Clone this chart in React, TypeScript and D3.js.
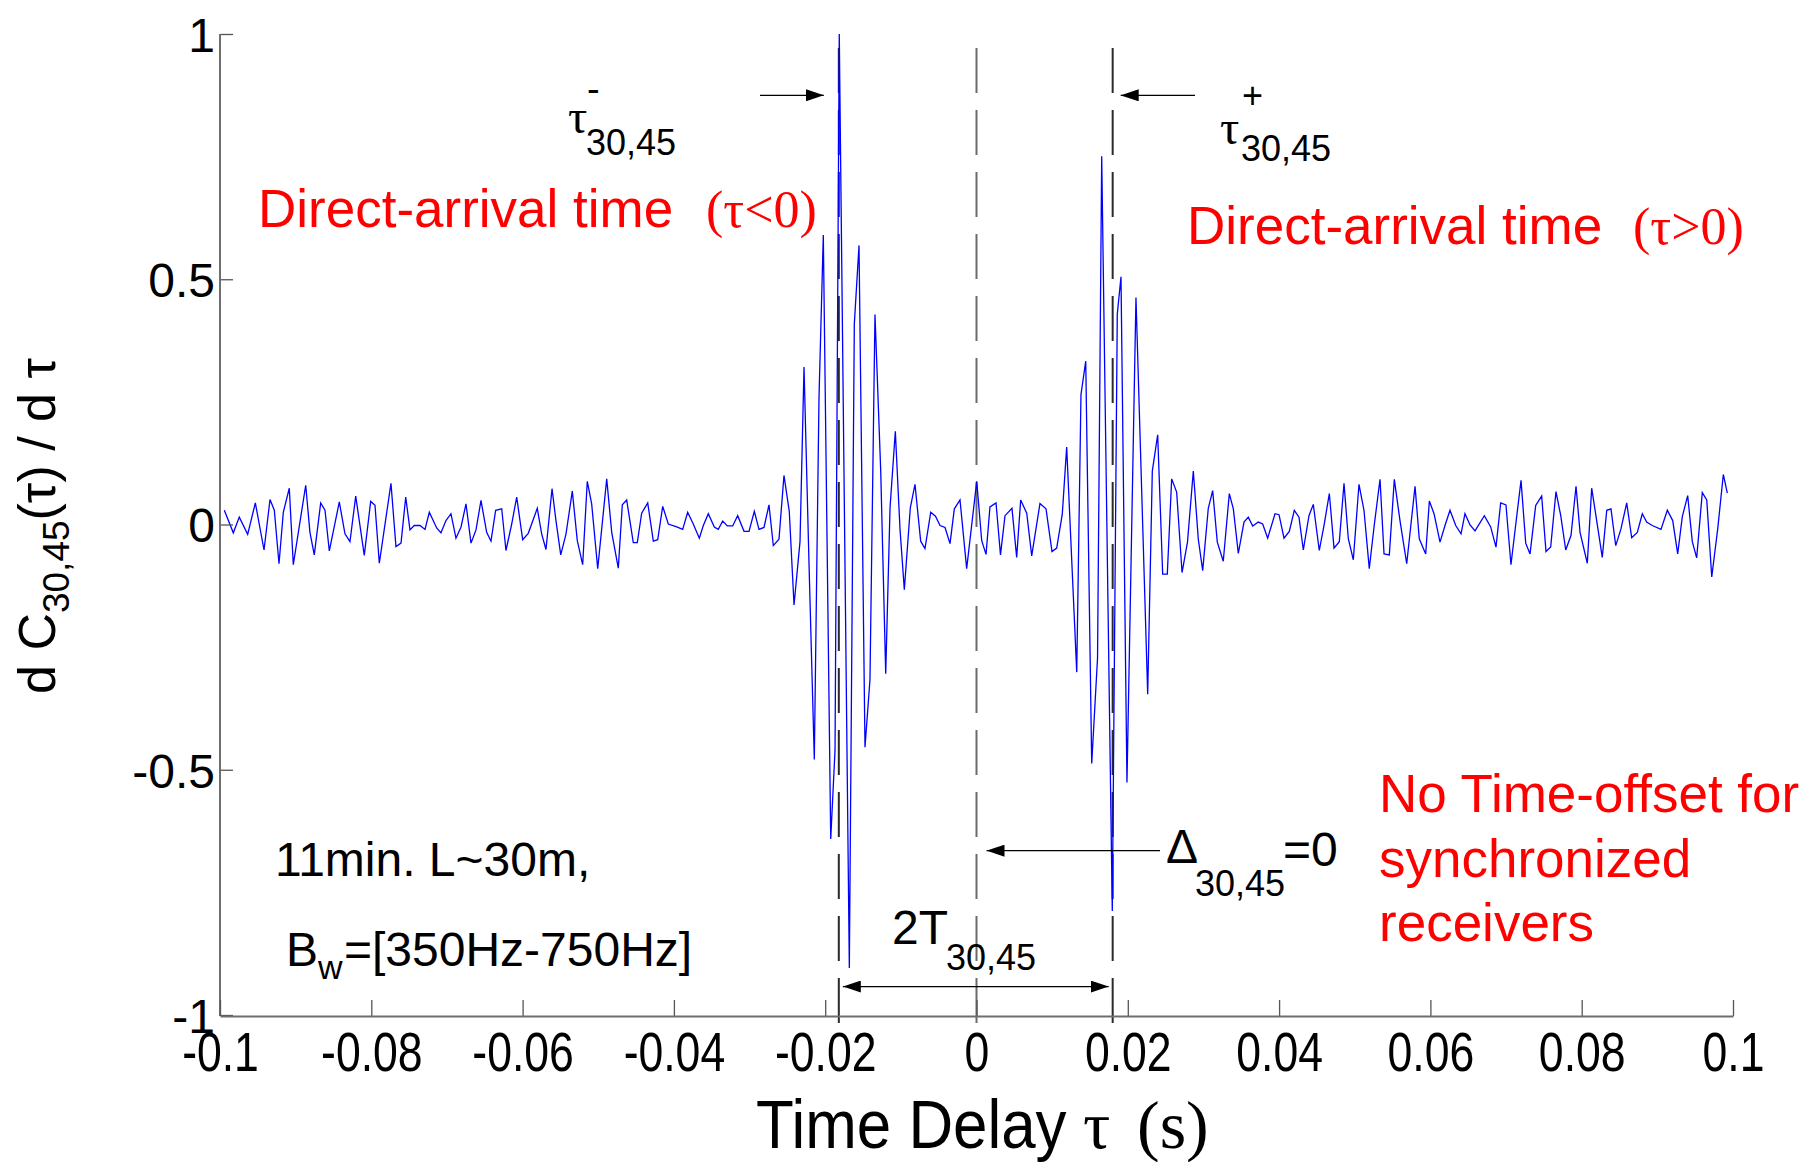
import * as d3 from "d3";
import React, { useEffect, useRef } from "react";

// trace of d C(tau)/d tau
const tauNoiseLeft = [
  -0.09943, -0.09824, -0.09745, -0.09634, -0.09533, -0.09418, -0.09339, -0.09282, -0.0922, -0.09163,
  -0.09084, -0.09031, -0.08867, -0.08811, -0.08754, -0.08669, -0.08612, -0.08555, -0.08423, -0.08348,
  -0.08282, -0.08206, -0.08093, -0.08008, -0.07951, -0.07894, -0.0774, -0.07674, -0.07607, -0.07545,
  -0.07489, -0.07432, -0.07356, -0.0729, -0.07233, -0.07136, -0.07079, -0.07013, -0.06947, -0.06881,
  -0.06814, -0.06748, -0.06682, -0.06616, -0.0655, -0.06475, -0.06418, -0.06356, -0.06276, -0.0622,
  -0.06144, -0.06078, -0.05999, -0.05925,
];
const valNoiseLeft = [
  0.029, -0.017, 0.015, -0.02, 0.044, -0.052, 0.051, 0.029, -0.08, 0.025,
  0.074, -0.082, 0.08, -0.016, -0.062, 0.044, 0.029, -0.054, 0.046, -0.019,
  -0.035, 0.058, -0.063, 0.047, 0.039, -0.079, 0.084, -0.045, -0.038, 0.056,
  -0.011, -0.002, -0.002, -0.01, 0.025, -0.007, -0.017, 0.008, 0.022, -0.028,
  -0.005, 0.042, -0.038, -0.011, 0.049, -0.016, -0.034, 0.029, 0.032, -0.053,
  0.001, 0.056, -0.031, -0.018,
];

const tauPreBurst = [
  -0.05806, -0.05748, -0.05691, -0.05611, -0.05559, -0.05496, -0.05426, -0.05343, -0.05277, -0.05206,
  -0.05145, -0.05087, -0.05007, -0.04888, -0.04822, -0.04735, -0.04682, -0.04624, -0.04537, -0.04484,
  -0.04426, -0.04346, -0.04272, -0.04214, -0.04148, -0.04074, -0.03963, -0.03884, -0.03818, -0.03744,
  -0.03664, -0.03611, -0.03545, -0.03466, -0.03413, -0.03355, -0.03294, -0.03223, -0.03157, -0.03073,
  -0.03007, -0.02937, -0.02875, -0.02809, -0.02743, -0.02686, -0.02611,
];
const valPreBurst = [
  0.033, -0.019, -0.051, 0.073, 0.008, -0.062, -0.019, 0.068, -0.033, -0.082,
  0.088, 0.042, -0.09, 0.093, -0.016, -0.089, 0.04, 0.05, -0.037, -0.037,
  0.023, 0.044, -0.034, -0.031, 0.037, 0.001, -0.005, -0.01, 0.025, 0.001,
  -0.028, -0.002, 0.022, -0.005, -0.01, 0.007, -0.003, -0.003, 0.018, -0.014,
  -0.014, 0.027, -0.01, -0.006, 0.04, -0.043, -0.03,
];

const tauBurstNeg = [
  -0.02545, -0.02475, -0.02412, -0.02333, -0.0228, -0.02214, -0.02144, -0.02082, -0.02025, -0.01927,
  -0.0187, -0.01814, -0.01681, -0.01615, -0.01553, -0.01474, -0.01408, -0.01342, -0.01266, -0.012,
  -0.01143, -0.01073, -0.01011, -0.00954,
];
const valBurstNeg = [
  0.1, 0.027, -0.164, -0.035, 0.321, -0.08, -0.479, 0.259, 0.59, -0.641,
  -0.46, 1.0, -0.904, 0.409, 0.569, -0.454, -0.316, 0.428, 0.109, -0.304,
  0.034, 0.19, -0.01, -0.133,
];

const tauCenter = [
  -0.00875, -0.00813, -0.00738, -0.00681, -0.00605, -0.00542, -0.00482, -0.00416, -0.0035, -0.00293,
  -0.00218, -0.0013, 0.00003, 0.00069, 0.00126, 0.00178, 0.00258, 0.00317, 0.00377, 0.00469,
  0.00531, 0.00584, 0.00664, 0.0073, 0.00839, 0.00919, 0.00998, 0.0106, 0.01134,
];
const valCenter = [
  0.034, 0.082, -0.034, -0.049, 0.025, 0.017, -0.002, -0.006, -0.039, 0.032,
  0.05, -0.09, 0.088, -0.033, -0.061, 0.036, 0.044, -0.062, 0.018, 0.033,
  -0.067, 0.05, 0.023, -0.064, 0.043, 0.032, -0.055, -0.048, 0.021,
];

const tauBurstPos = [
  0.01192, 0.01325, 0.01381, 0.01444, 0.01523, 0.016, 0.01655, 0.01795, 0.01861, 0.0191,
  0.01989, 0.02108, 0.02263, 0.02324, 0.02395, 0.02461, 0.02522, 0.0258, 0.02646, 0.02717,
  0.02789, 0.02866, 0.02932, 0.0299,
];
const valBurstPos = [
  0.158, -0.301, 0.265, 0.333, -0.487, -0.272, 0.751, -0.788, 0.429, 0.505,
  -0.526, 0.463, -0.346, 0.109, 0.183, -0.101, -0.101, 0.093, 0.066, -0.098,
  -0.036, 0.109, -0.03, -0.094,
];

const tauPostBurst = [
  0.03064, 0.03122, 0.03183, 0.03262, 0.03342, 0.03395, 0.03461, 0.03536, 0.03593, 0.03651,
  0.03725, 0.03783, 0.03849, 0.03946, 0.03999, 0.04065, 0.04135, 0.04201, 0.04263, 0.0432,
  0.04395, 0.04452, 0.04531, 0.04594, 0.04664, 0.04726, 0.04796, 0.04858, 0.04915, 0.04981,
  0.05056, 0.05122, 0.05192, 0.05258, 0.05334, 0.05387, 0.05457, 0.05523, 0.05598, 0.05687,
  0.05797, 0.05853, 0.05938, 0.05986, 0.06048, 0.06127, 0.06193, 0.06259, 0.06335, 0.06405,
  0.06457, 0.06524,
];
const valPostBurst = [
  0.033, 0.069, -0.036, -0.075, 0.063, 0.032, -0.059, 0.005, 0.015, -0.003,
  0.005, 0.001, -0.028, 0.022, 0.02, -0.028, -0.014, 0.029, 0.015, -0.052,
  0.018, 0.041, -0.053, -0.002, 0.063, -0.048, -0.035, 0.084, -0.029, -0.072,
  0.082, 0.029, -0.09, -0.001, 0.092, -0.06, -0.062, 0.092, 0.008, -0.08,
  0.078, -0.029, -0.06, 0.048, 0.022, -0.036, -0.002, 0.029, -0.002, -0.019,
  0.022, -0.001,
];

const tauNoiseRight = [
  0.0659, 0.06713, 0.06797, 0.06867, 0.06929, 0.06999, 0.07065, 0.07132, 0.07198, 0.0726,
  0.07317, 0.07392, 0.07471, 0.07528, 0.0759, 0.0766, 0.07723, 0.07789, 0.07859, 0.07925,
  0.07978, 0.08074, 0.08132, 0.08198, 0.08272, 0.08331, 0.08387, 0.0845, 0.08519, 0.08595,
  0.08661, 0.08735, 0.08801, 0.08859, 0.08933, 0.09048, 0.09132, 0.09203, 0.09269, 0.0933,
  0.09401, 0.09462, 0.0952, 0.09594, 0.09653, 0.09719, 0.09798, 0.09872, 0.09925,
];
const valNoiseRight = [
  -0.013, 0.018, -0.005, -0.046, 0.044, 0.04, -0.082, 0.005, 0.09, -0.038,
  -0.06, 0.039, 0.058, -0.055, -0.046, 0.067, 0.018, -0.052, -0.022, 0.078,
  -0.016, -0.079, 0.074, 0.008, -0.067, 0.029, 0.032, -0.043, -0.009, 0.044,
  -0.027, -0.016, 0.022, 0.005, -0.002, -0.01, 0.029, 0.008, -0.06, 0.016,
  0.059, -0.035, -0.068, 0.065, 0.05, -0.107, -0.009, 0.102, 0.064,
];

const xTickValues = [-0.1, -0.08, -0.06, -0.04, -0.02, 0, 0.02, 0.04, 0.06, 0.08, 0.1];
const xTickLabels = ["-0.1", "-0.08", "-0.06", "-0.04", "-0.02", "0", "0.02", "0.04", "0.06", "0.08", "0.1"];
const yTickValues = [-1, -0.5, 0, 0.5, 1];
const yTickLabels = ["-1", "-0.5", "0", "0.5", "1"];

// tau-, 0 (no offset), tau+
const markerTaus = [-0.0182, 0, 0.018];
const markerColors = ["#2a2a2a", "#6a6a6a", "#2a2a2a"];

const SANS = "'Liberation Sans', Arial, Helvetica, sans-serif";
const SERIF = "'Liberation Serif', 'Times New Roman', serif";

const App = () => {
  const ref = useRef(null);

  useEffect(() => {
    const width = 1810;
    const height = 1162;
    const left = 220;
    const right = 1733;
    const top = 34;
    const bottom = 1016;

    const tau = [
      ...tauNoiseLeft, ...tauPreBurst, ...tauBurstNeg, ...tauCenter,
      ...tauBurstPos, ...tauPostBurst, ...tauNoiseRight,
    ];
    const val = [
      ...valNoiseLeft, ...valPreBurst, ...valBurstNeg, ...valCenter,
      ...valBurstPos, ...valPostBurst, ...valNoiseRight,
    ];

    const svg = d3.select(ref.current).attr("width", width).attr("height", height);
    svg.selectAll("*").remove();
    svg.append("rect").attr("width", width).attr("height", height).attr("fill", "#fff");

    const x = d3.scaleLinear().domain([-0.1, 0.1]).range([left, right]);
    const y = d3.scaleLinear().domain([-1, 1]).range([bottom - 1, top]);

    const defs = svg.append("defs");
    defs
      .append("marker")
      .attr("id", "head")
      .attr("viewBox", "0 0 18 12")
      .attr("markerUnits", "userSpaceOnUse")
      .attr("markerWidth", 18)
      .attr("markerHeight", 12)
      .attr("refX", 18)
      .attr("refY", 6)
      .attr("orient", "auto-start-reverse")
      .append("path")
      .attr("d", "M0,0 L18,6 L0,12 Z")
      .attr("fill", "#000");

    // vertical dashed markers
    svg
      .selectAll(".marker")
      .data(markerTaus)
      .enter()
      .append("line")
      .attr("x1", (d) => x(d))
      .attr("x2", (d) => x(d))
      .attr("y1", top)
      .attr("y2", bottom + 66)
      .attr("stroke", (d, i) => markerColors[i])
      .attr("stroke-width", 2)
      .attr("stroke-dasharray", "45 17")
      .attr("stroke-dashoffset", 48);

    // signal
    const line = d3
      .line()
      .x((i) => x(tau[i]))
      .y((i) => y(val[i]));
    svg
      .append("path")
      .attr("d", line(d3.range(tau.length)))
      .attr("fill", "none")
      .attr("stroke", "#0000ff")
      .attr("stroke-width", 1.3)
      .attr("stroke-linejoin", "miter");

    // y axis
    const yAxis = svg
      .append("g")
      .attr("transform", `translate(${left},0)`)
      .call(
        d3.axisLeft(y).tickValues(yTickValues).tickSizeInner(-13).tickSizeOuter(0).tickPadding(5)
          .tickFormat((d, i) => yTickLabels[i])
      );
    yAxis.select(".domain").attr("stroke", "#6e6e6e").attr("stroke-width", 2).attr("d", `M0,${top}V${bottom}`);
    yAxis.selectAll(".tick line").attr("stroke", "#555").attr("stroke-width", 1.3);
    yAxis.selectAll("text").attr("font-family", SANS).attr("font-size", 48).attr("fill", "#000").attr("dy", "0.36em");

    // x axis
    const xAxis = svg
      .append("g")
      .attr("transform", `translate(0,${bottom})`)
      .call(
        d3.axisBottom(x).tickValues(xTickValues).tickSizeInner(-16).tickSizeOuter(0)
          .tickFormat((d, i) => xTickLabels[i])
      );
    xAxis.select(".domain").attr("stroke", "#6e6e6e").attr("stroke-width", 2);
    xAxis.selectAll(".tick line").attr("stroke", "#555").attr("stroke-width", 1.3);
    xAxis
      .selectAll("text")
      .attr("font-family", SANS)
      .attr("font-size", 55)
      .attr("fill", "#000")
      .attr("y", 55)
      .attr("dy", 0)
      .attr("transform", "scale(0.81,1)");
    // white box behind each tick label (hides the dashed lines)
    xAxis.selectAll(".tick").each(function () {
      const g = d3.select(this);
      const t = g.select("text");
      const b = t.node().getBBox();
      g.insert("rect", "text")
        .attr("x", b.x * 0.81 - 2)
        .attr("y", 20)
        .attr("width", b.width * 0.81 + 4)
        .attr("height", 59)
        .attr("fill", "#fff");
    });
    svg.selectAll(".domain").raise();

    const txt = (px, py, s, size, fill = "#000", family = SANS) =>
      svg
        .append("text")
        .attr("x", px)
        .attr("y", py)
        .attr("font-size", size)
        .attr("font-family", family)
        .attr("fill", fill)
        .text(s);

    // tau- label and arrow
    txt(568, 133, "τ", 48, "#000", SERIF);
    txt(587, 102, "-", 38);
    txt(586, 155, "30,45", 36);
    svg.append("line")
      .attr("x1", 760).attr("x2", x(markerTaus[0]) - 15)
      .attr("y1", y(0.875)).attr("y2", y(0.875))
      .attr("stroke", "#000").attr("stroke-width", 1.3).attr("marker-end", "url(#head)");

    // tau+ label and arrow
    txt(1220, 144, "τ", 48, "#000", SERIF);
    txt(1242, 108, "+", 36);
    txt(1241, 161, "30,45", 36);
    svg.append("line")
      .attr("x1", 1195).attr("x2", x(markerTaus[2]) + 8)
      .attr("y1", y(0.875)).attr("y2", y(0.875))
      .attr("stroke", "#000").attr("stroke-width", 1.3).attr("marker-end", "url(#head)");

    // red annotations
    txt(258, 227, "Direct-arrival time", 53, "#ff0000");
    txt(706, 227, "(τ<0)", 52, "#ff0000", SERIF);
    txt(1187, 244, "Direct-arrival time", 53, "#ff0000");
    txt(1633, 244, "(τ>0)", 52, "#ff0000", SERIF);
    txt(1379, 812, "No Time-offset for", 53, "#ff0000");
    txt(1379, 877, "synchronized", 53, "#ff0000");
    txt(1379, 941, "receivers", 53, "#ff0000");

    // experiment notes
    txt(275, 876, "11min. L~30m,", 48);
    txt(286, 966, "B", 48);
    txt(318, 979, "w", 34);
    txt(344, 966, "=[350Hz-750Hz]", 48);

    // Delta = 0 with arrow to the centre line
    txt(1166, 863, "Δ", 48);
    txt(1195, 896, "30,45", 36);
    txt(1283, 866, "=0", 48);
    svg.append("line")
      .attr("x1", 1160).attr("x2", x(markerTaus[1]) + 10)
      .attr("y1", y(-0.665)).attr("y2", y(-0.665))
      .attr("stroke", "#000").attr("stroke-width", 1.3).attr("marker-end", "url(#head)");

    // 2T span between the two arrivals
    txt(892, 944, "2T", 48);
    txt(946, 970, "30,45", 36);
    svg.append("line")
      .attr("x1", x(markerTaus[0]) + 4).attr("x2", x(markerTaus[2]) - 4)
      .attr("y1", y(-0.942)).attr("y2", y(-0.942))
      .attr("stroke", "#000").attr("stroke-width", 1.3)
      .attr("marker-start", "url(#head)").attr("marker-end", "url(#head)");

    // axis titles
    svg.append("text")
      .attr("transform", "translate(756,1148) scale(0.91,1)")
      .attr("font-family", SANS).attr("font-size", 68).attr("fill", "#000")
      .text("Time Delay");
    txt(1083, 1148, "τ", 68, "#000", SERIF);
    txt(1137, 1148, "(s)", 68, "#000", SERIF);

    const yl = svg.append("text")
      .attr("transform", "translate(55,526) rotate(-90)")
      .attr("text-anchor", "middle")
      .attr("font-family", SANS).attr("font-size", 52).attr("fill", "#000");
    yl.append("tspan").text("d C");
    yl.append("tspan").attr("font-size", 37).attr("dy", 14).text("30,45");
    yl.append("tspan").attr("dy", -14).text("(τ) / d τ");
  }, []);

  return <svg ref={ref} style={{ position: "absolute", left: 0, top: 0 }}></svg>;
};

export default App;
